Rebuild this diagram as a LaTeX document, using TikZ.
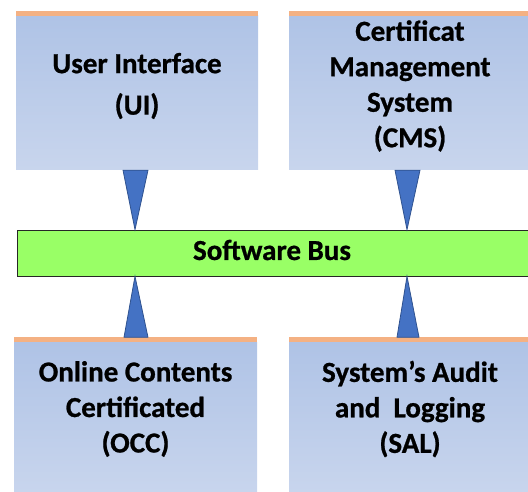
\documentclass[tikz,border=0pt]{standalone}
\usepackage{fontspec}
\setmainfont{Carlito}[BoldFeatures={FakeBold=0.8}]
\definecolor{boxtop}{HTML}{AFC3E6}
\definecolor{boxbot}{HTML}{C8D5ED}
\definecolor{topline}{HTML}{F4B183}
\definecolor{busgreen}{HTML}{99FF66}
\definecolor{arrowfill}{HTML}{4472C4}
\definecolor{arrowline}{HTML}{2F528F}
\tikzset{
  block/.style={rectangle, inner sep=0pt, top color=boxtop, bottom color=boxbot, draw=none},
  blocktext/.style={align=center, font=\fontsize{29}{35.5}\selectfont\bfseries},
  bus/.style={rectangle, inner sep=0pt, fill=busgreen, draw=black!85, line width=0.8pt},
  bustextstyle/.style={font=\fontsize{29}{32}\selectfont\bfseries},
  wedge/.style={fill=arrowfill, draw=arrowline, line width=0.8pt, line join=miter},
  stripe/.style={fill=topline}
}
\begin{document}
\begin{tikzpicture}[x=1pt,y=-1pt]
\useasboundingbox (0,0) rectangle (528,492);
\begin{scope}
\clip (0,0) rectangle (528,492);
% component boxes
\node[block, minimum width=242pt, minimum height=154pt] (ui) at (137,93) {};
\node[block, minimum width=242pt, minimum height=154pt] (cms) at (410,93) {};
\node[block, minimum width=243pt, minimum height=150pt] (occ) at (135.5,417.5) {};
\node[block, minimum width=242pt, minimum height=150pt] (sal) at (410,417.5) {};
% orange stripes along the top edges
\fill[stripe] (ui.north west) rectangle ++(242,-5);
\fill[stripe] (cms.north west) rectangle ++(242,-5);
\fill[stripe] (occ.north west) rectangle ++(243,-5);
\fill[stripe] (sal.north west) rectangle ++(242,-5);
% software bus
\node[bus, minimum width=530pt, minimum height=46pt, anchor=west] (bus) at (17,253) {};
\node[bustextstyle] (bustext) at (272,250) {Software Bus};
% labels
\node[blocktext] (uit) at (137,86) {User Interface\\[6pt](UI)};
\node[blocktext] (cmst) at (410,86) {Certificat\\Management\\System\\(CMS)};
\node[blocktext] (occt) at (135.5,409) {Online Contents\\Certificated\\(OCC)};
\node[blocktext] (salt) at (410,409) {System’s Audit\\and\ \ Logging\\(SAL)};
% connectors: wedges between each box and the bus
\coordinate (t1) at (bus.north -| 135,0);
\coordinate (t2) at (bus.north -| 407,0);
\coordinate (b1) at (bus.south -| 135,0);
\coordinate (b2) at (bus.south -| 407,0);
\draw[wedge] (ui.south -| 123,0) -- (ui.south -| 148,0) -- (t1) -- cycle;
\draw[wedge] (cms.south -| 395,0) -- (cms.south -| 420,0) -- (t2) -- cycle;
\draw[wedge] (occ.north -| 124,0) ++(0,-5) -- ++(24,0) -- (b1) -- cycle;
\draw[wedge] (sal.north -| 397,0) ++(0,-5) -- ++(22,0) -- (b2) -- cycle;
\end{scope}
\end{tikzpicture}
\end{document}
